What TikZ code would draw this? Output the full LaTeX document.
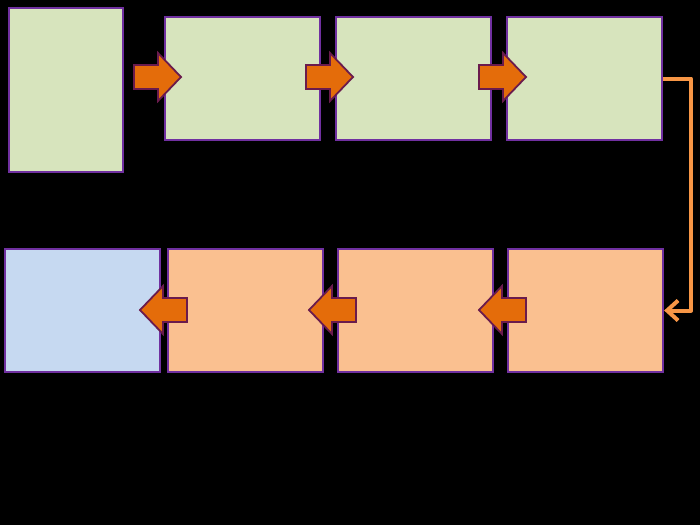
\documentclass[tikz,border=0pt]{standalone}
\usetikzlibrary{arrows.meta}
\definecolor{boxgreen}{HTML}{D7E4BD}
\definecolor{boxblue}{HTML}{C6D9F1}
\definecolor{boxorange}{HTML}{FAC090}
\definecolor{boxline}{HTML}{7030A0}
\definecolor{arrfill}{HTML}{E46C0A}
\definecolor{arrline}{HTML}{6A1B4D}
\definecolor{connclr}{HTML}{F79646}
\tikzset{
  box/.style={draw=boxline, line width=2.2pt, minimum width=155pt, minimum height=123pt, inner sep=0pt},
  gbox/.style={box, fill=boxgreen},
  bbox/.style={box, fill=boxblue},
  obox/.style={box, fill=boxorange},
  blockarrow/.style={fill=arrfill, draw=arrline, line width=1.8pt, line join=miter},
  conn/.style={draw=connclr, line width=4pt, line join=round, -{Straight Barb[length=11pt,width=20pt,line width=4pt]}},
  barrow/.pic={\draw[blockarrow] (0,-12) -- (24,-12) -- (24,-24) -- (47,0) -- (24,24) -- (24,12) -- (0,12) -- cycle;}
}
\begin{document}
\begin{tikzpicture}[x=1pt,y=-1pt]
\fill[black] (0,0) rectangle (700,525);
\useasboundingbox (0,0) rectangle (700,525);
% top row
\node[gbox, minimum width=114pt, minimum height=164pt] (b1) at (66,90) {};
\node[gbox] (b2) at (242.5,78.5) {};
\node[gbox] (b3) at (413.5,78.5) {};
\node[gbox] (b4) at (584.5,78.5) {};
% bottom row
\node[bbox] (b5) at (82.5,310.5) {};
\node[obox] (b6) at (245.5,310.5) {};
\node[obox] (b7) at (415.5,310.5) {};
\node[obox] (b8) at (585.5,310.5) {};
% block arrows
\pic at (134,77) {barrow};
\pic at (306,77) {barrow};
\pic at (479,77) {barrow};
\pic[xscale=-1] at (187,310) {barrow};
\pic[xscale=-1] at (356,310) {barrow};
\pic[xscale=-1] at (526,310) {barrow};
% connector
\draw[conn] (b4.east) -- ++(28,0) coordinate (c1) |- (b8.east);
\end{tikzpicture}
\end{document}
